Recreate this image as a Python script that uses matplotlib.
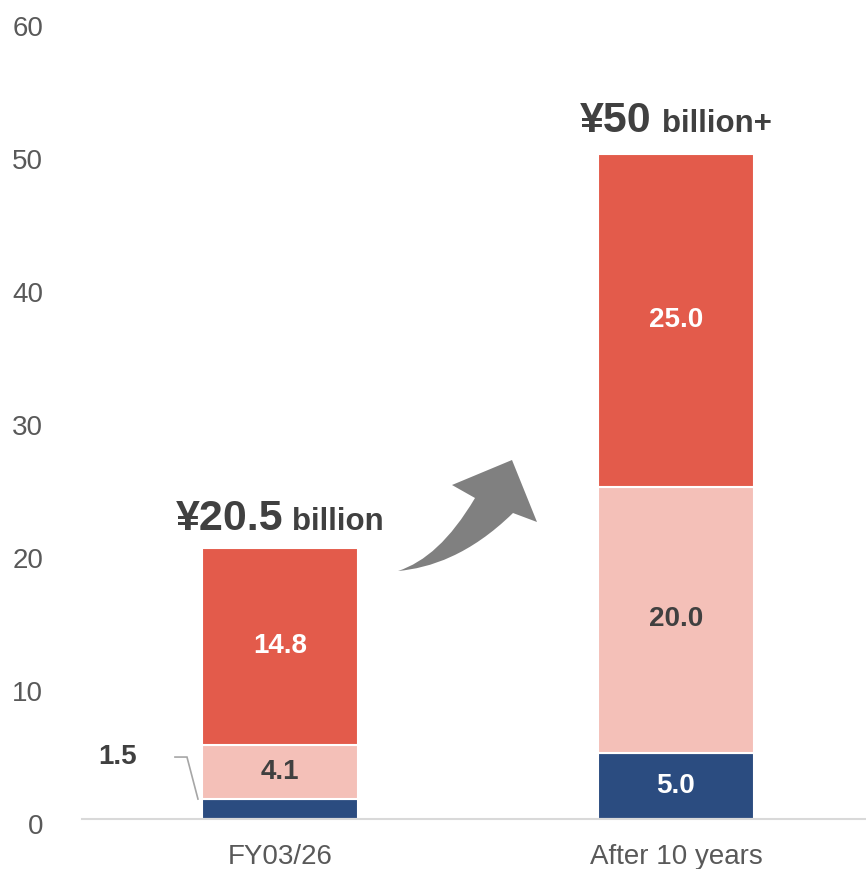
import matplotlib.pyplot as plt
import matplotlib.transforms as mtransforms
from matplotlib.path import Path
from matplotlib.patches import PathPatch
import numpy as np

plt.rcParams["font.family"] = ["Liberation Sans", "DejaVu Sans"]

categories = ["FY03/26", "After 10 years"]
seg_bottom = [1.5, 5.0]    # navy
seg_middle = [4.1, 20.0]   # light pink
seg_top = [14.8, 25.0]     # red
total_main = ["¥20.5", "¥50"]
total_unit = ["billion", "billion+"]

c_navy = "#2B4C80"
c_pink = "#F4C0B8"
c_red = "#E35B4B"
c_text = "#404040"
c_tick = "#595959"

W, H = 866, 869
fig = plt.figure(figsize=(W / 100, H / 100), dpi=100)
ax = fig.add_axes([82 / W, (H - 819) / H, 1 - 82 / W, (819 - 21) / H])

x = np.arange(len(categories))
bw = 0.394
b1 = np.array(seg_bottom)
b2 = np.array(seg_middle)
b3 = np.array(seg_top)
kw = dict(width=bw, edgecolor="white", linewidth=1.5, zorder=2)
ax.bar(x, b1, color=c_navy, **kw)
ax.bar(x, b2, bottom=b1, color=c_pink, **kw)
ax.bar(x, b3, bottom=b1 + b2, color=c_red, **kw)

ax.set_xlim(-0.5, 1.48)
ax.set_ylim(0, 60)
ax.set_yticks(range(0, 61, 10))
ax.set_xticks(x)
ax.set_xticklabels(categories)
ax.tick_params(axis="both", length=0, labelsize=20, colors=c_tick)
ax.tick_params(axis="y", pad=28)
ax.tick_params(axis="x", pad=18)
for lab in ax.get_yticklabels():
    lab.set_transform(lab.get_transform() + mtransforms.ScaledTranslation(0, -5 / 100, fig.dpi_scale_trans))
for s in ["top", "right", "left"]:
    ax.spines[s].set_visible(False)
ax.spines["bottom"].set_color("#D9D9D9")
ax.spines["bottom"].set_linewidth(1.5)

# segment labels
for i in range(len(categories)):
    if i == 1:
        ax.text(x[i], b1[i] / 2, f"{b1[i]:.1f}", ha="center", va="center",
                fontsize=20, fontweight="bold", color="white")
    ax.text(x[i], b1[i] + b2[i] / 2, f"{b2[i]:.1f}", ha="center", va="center",
            fontsize=20, fontweight="bold", color=c_text)
    ax.text(x[i], b1[i] + b2[i] + b3[i] / 2, f"{b3[i]:.1f}", ha="center", va="center",
            fontsize=20, fontweight="bold", color=c_text if False else "white")

# leader label for small navy segment
px_x = 1.98 / 784   # data units per pixel, x
px_y = 60 / 798     # data units per pixel, y
x0 = x[0] - bw / 2
ax.plot([x0 - 27 * px_x, x0 - 15 * px_x, x0 - 4 * px_x],
        [b1[0] + 42 * px_y, b1[0] + 42 * px_y, b1[0]],
        color="#A6A6A6", lw=1.2, solid_joinstyle="miter", zorder=1, clip_on=False)
ax.text(x0 - 84 * px_x, b1[0] + 42 * px_y, f"{b1[0]:.1f}", ha="center", va="center",
        fontsize=20, fontweight="bold", color=c_text)

# totals
tot = b1 + b2 + b3
offs = [(3, 12, 18), (-24, -14, 22)]
for i in range(len(categories)):
    ox1, ox2, oy = offs[i]
    ax.annotate(total_main[i], xy=(x[i], tot[i]), xytext=(ox1, oy), textcoords="offset pixels",
                ha="right", va="baseline", fontsize=31, fontweight="bold", color=c_text)
    ax.annotate(total_unit[i], xy=(x[i], tot[i]), xytext=(ox2, oy), textcoords="offset pixels",
                ha="left", va="baseline", fontsize=22.5, fontweight="bold", color=c_text)

# curved arrow (figure pixel coords, y measured from top)
pts = [
    (398, 571),
    (430, 568), (470, 555), (513, 513),   # lower edge
    (537, 522),                           # head right corner
    (512, 460),                           # tip
    (452, 485),                           # head left corner
    (475, 498),                           # notch
    (450, 540), (425, 562), (398, 571),   # upper edge back to tail
]
codes = [Path.MOVETO, Path.CURVE4, Path.CURVE4, Path.CURVE4,
         Path.LINETO, Path.LINETO, Path.LINETO, Path.LINETO,
         Path.CURVE4, Path.CURVE4, Path.CURVE4]
verts = [(px / W, (H - py) / H) for px, py in pts]
arrow = PathPatch(Path(verts, codes), transform=fig.transFigure, facecolor="#808080",
                  edgecolor="none", zorder=3)
fig.patches.append(arrow)

fig.savefig("out.png", dpi=100)
